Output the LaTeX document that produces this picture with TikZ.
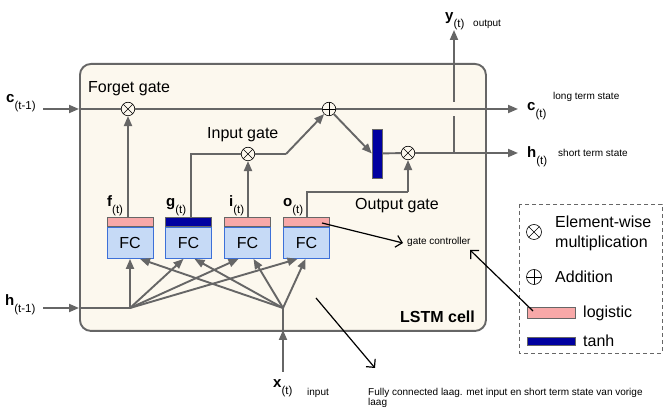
\documentclass[tikz,border=0pt]{standalone}
\usepackage{fontspec}
\setmainfont{Liberation Sans}
\usetikzlibrary{arrows.meta,calc}
\definecolor{ln}{HTML}{666666}
\definecolor{cream}{HTML}{FCF8EE}
\definecolor{fcblue}{HTML}{C6DAF6}
\definecolor{fcedge}{HTML}{3D70D8}
\definecolor{pinkc}{HTML}{F8A8A8}
\definecolor{navyc}{HTML}{0000A0}
\newcommand{\vlab}[2]{{\fontsize{15}{15}\selectfont\bfseries #1}\raisebox{-7pt}{\fontsize{11.5}{11.5}\selectfont #2}}
\begin{document}
\begin{tikzpicture}[x=1pt,y=-1pt,
  gline/.style={draw=ln,line width=1.9pt},
  garrow/.style={gline,-{Triangle[length=10pt,width=8pt]}},
  barrow/.style={draw=black,line width=1.2pt,-{Straight Barb[length=6pt,width=12pt]}},
  mult/.style={circle,draw=black,line width=0.6pt,fill=cream,minimum size=13.5pt,inner sep=0pt,
    path picture={\draw[line width=0.6pt] (path picture bounding box.north west) -- (path picture bounding box.south east)
      (path picture bounding box.north east) -- (path picture bounding box.south west);}},
  plusc/.style={circle,draw=black,line width=0.6pt,fill=cream,minimum size=13.5pt,inner sep=0pt,
    path picture={\draw[line width=0.6pt] (path picture bounding box.north) -- (path picture bounding box.south)
      (path picture bounding box.east) -- (path picture bounding box.west);}},
  txt/.style={anchor=base west,inner sep=0pt,font=\fontsize{16}{16}\selectfont},
  small/.style={anchor=base west,inner sep=0pt,font=\fontsize{10}{10}\selectfont},
  lab/.style={anchor=base west,inner sep=0pt},
  fcbox/.style={draw=fcedge,line width=0.9pt,fill=fcblue,minimum width=46pt,minimum height=31pt,inner sep=0pt,anchor=north,font=\fontsize{16}{16}\selectfont},
  strip/.style={draw=ln,line width=0.9pt,minimum width=46pt,minimum height=9pt,inner sep=0pt,anchor=south},
]
\useasboundingbox (0,0) rectangle (670,411);
\fill[white] (0,0) rectangle (670,411);
% cell
\node[draw=ln,line width=1.9pt,fill=cream,rounded corners=11pt,minimum width=406pt,minimum height=267pt,inner sep=0pt,anchor=north west] (cell) at (79,63) {};
\node[anchor=base east,inner sep=0pt,font=\fontsize{16}{16}\selectfont\bfseries] (lstm) at (475,323) {LSTM cell};

% FC boxes
\foreach \n/\x/\c in {f/130/pinkc,g/188.5/navyc,i/247.5/pinkc,o/306.5/pinkc}{
  \node[fcbox] (\n fc) at (\x,227) {FC};
  \node[strip,fill=\c] (\n st) at (\x,227) {};
}

% operators
\node[mult] (fx) at (128,109) {};
\node[plusc] (pl) at (329,109) {};
\node[mult] (ix) at (248,154) {};
\node[mult] (ox) at (408,153) {};
\node[draw=ln,line width=0.4pt,fill=navyc,minimum width=10pt,minimum height=49pt,inner sep=0pt] (tanh) at (377,153.5) {};

% texts
\node[txt] (fgt) at (88,93) {Forget gate};
\node[txt] (igt) at (207,139) {Input gate};
\node[txt] (ogt) at (355,210) {Output gate};

% labels
\node[lab] (cin) at (6,103) {\vlab{c}{(t-1)}};
\node[lab] (hin) at (5,306) {\vlab{h}{(t-1)}};
\node[lab] (flab) at (107,207) {\vlab{f}{(t)}};
\node[lab] (glab) at (166,207) {\vlab{g}{(t)}};
\node[lab] (ilab) at (229,207) {\vlab{i}{(t)}};
\node[lab] (olab) at (283,207) {\vlab{o}{(t)}};
\node[lab] (xlab) at (273,388) {\vlab{x}{(t)}};
\node[small] (xin) at (307,396) {input};
\node[lab] (ylab) at (445,21) {\vlab{y}{(t)}};
\node[small] (yout) at (473,27) {output};
\node[lab] (clab) at (527,111) {\vlab{c}{(t)}};
\node[small] (lts) at (553,100) {long term state};
\node[lab] (hlab) at (527,158) {\vlab{h}{(t)}};
\node[small] (sts) at (558,157) {short term state};

% coordinates
\coordinate (cst) at (43,109);
\coordinate (cL) at (79,109);
\coordinate (cend) at (518,109);
\coordinate (hst) at (43,308);
\coordinate (hL) at (79,308);
\coordinate (hj) at (130,308);
\coordinate (xst) at (283,372);
\coordinate (xB) at (283,330);
\coordinate (xj) at (283,308);
\coordinate (hend) at (518,153);
\coordinate (yj) at (454,153);
\coordinate (ygap1) at (454,116);
\coordinate (ygap2) at (454,102);
\coordinate (yend) at (454,30);
\coordinate (gk) at (191,154);
\coordinate (ik) at (286,154);
\coordinate (ok1) at (307,192);
\coordinate (ok2) at (408,192);

% cell state line
\draw[garrow] (cst) -- (cL);
\draw[gline] (cL) -- (fx);
\draw[gline] (fx) -- (pl);
\draw[garrow] (pl) -- (cend);
% gates
\draw[garrow] (fst.north -| fx) -- (fx);
\draw[gline] (gst.north -| gk) -- (gk) -- (ix);
\draw[garrow] (ist.north -| ix) -- (ix);
\draw[gline] (ix) -- (ik);
\draw[garrow] (ik) -- (pl);
\draw[garrow] (pl) -- (tanh.west);
\draw[gline] (tanh) -- (ox);
\draw[gline] (ost.north -| ok1) -- (ok1) -- (ok2);
\draw[garrow] (ok2) -- (ox);
\draw[garrow] (ox) -- (hend);
\draw[gline] (yj) -- (ygap1);
\draw[garrow] (ygap2) -- (yend);
% inputs
\draw[garrow] (hst) -- (hL);
\draw[gline] (hL) -- (hj);
\draw[garrow] (xst) -- (xB);
\draw[gline] (xB) -- (xj);
\draw[garrow] (hj) -- (ffc.south);
\draw[garrow] (hj) -- ($(gfc.south)+(-5,0)$);
\draw[garrow] (hj) -- ($(ifc.south)+(-9,0)$);
\draw[garrow] (hj) -- ($(ofc.south)+(-9,0)$);
\draw[garrow] (xj) -- ($(ffc.south)+(10,0)$);
\draw[garrow] (xj) -- ($(gfc.south)+(6,0)$);
\draw[garrow] (xj) -- ($(ifc.south)+(6,0)$);
\draw[garrow] (xj) -- ($(ofc.south)+(-1,0)$);

% legend
\draw[ln,line width=0.9pt,dash pattern=on 4pt off 3pt] (519,204) rectangle (662,353);
\node[mult,fill=white,minimum size=15pt] (lm) at (534,232) {};
\node[plusc,fill=white,minimum size=15pt] (lp) at (534,277) {};
\node[txt] (lmt) at (555,228) {Element-wise};
\node[txt] (lmt2) at (555,248) {multiplication};
\node[txt] (lpt) at (555,283) {Addition};
\node[draw=ln,line width=0.6pt,fill=pinkc,minimum width=48pt,minimum height=11pt,inner sep=0pt] (lpk) at (551,312.5) {};
\node[txt] (lpkt) at (583,318) {logistic};
\node[draw=ln,line width=0.6pt,fill=navyc,minimum width=48pt,minimum height=8pt,inner sep=0pt] (lnv) at (551,341) {};
\node[txt] (lnvt) at (583,347) {tanh};

% annotations
\node[small] (gc) at (407,245) {gate controller};
\node[anchor=north west,inner sep=0pt,align=left,font=\fontsize{10}{10}\selectfont] (fcl) at (368,388) {Fully connected laag. met input en short term state van vorige\\laag};
\coordinate (a1s) at (322,223);
\coordinate (a1e) at (403,243);
\coordinate (a2s) at (533,311);
\coordinate (a2e) at (470,250);
\coordinate (a3s) at (316,298);
\coordinate (a3e) at (375,368);
\draw[barrow] (a1s) -- (a1e);
\draw[barrow] (a2s) -- (a2e);
\draw[barrow] (a3s) -- (a3e);
\end{tikzpicture}
\end{document}
